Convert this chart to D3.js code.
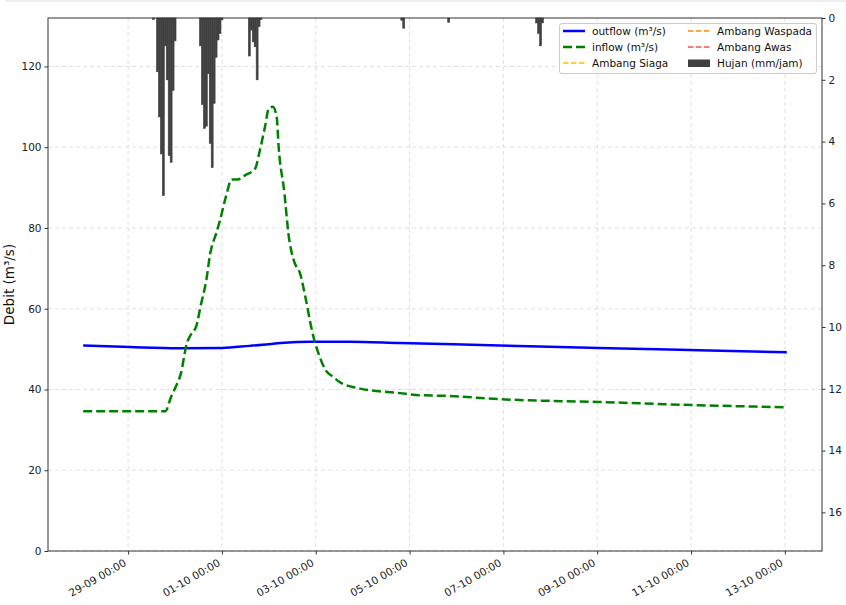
<!DOCTYPE html>
<html><head><meta charset="utf-8">
<script src="https://cdn.jsdelivr.net/npm/d3@7"></script>
<style>body{margin:0;background:#fff}svg{display:block;font-family:"DejaVu Sans",sans-serif}</style>
</head><body><svg id="c" width="846" height="605"></svg>
<script>
// ---- data (hours since 28-09 01:00) ----
const startTime = Date.UTC(2024, 8, 28, 1);
const totalHours = 360;
const inflowHours = [0,42,45,47,50,53,55,58,60,63,65,68,70,73,76,79,83,88,90,93,95,97,99,100,103,105,108,111,114,117,121,124,128,131,141,162,172,187,213,264,315,360];
const inflowValues = [34.6,34.6,38.2,40.3,44.0,51.4,53.5,55.9,60.5,67.1,73.7,78.6,81.9,87.7,92.0,92.0,93.1,94.7,98.4,105.0,109.6,110.0,107.5,100.1,88.5,78.6,71.6,68.7,62.1,54.7,48.1,44.8,43.1,41.9,40.3,39.1,38.6,38.4,37.6,36.9,36.1,35.6];
const outflowHours = [0,24,49,71,85,95,103,116,136,162,213,264,315,360];
const outflowValues = [50.9,50.5,50.2,50.3,50.8,51.2,51.6,51.8,51.8,51.5,50.9,50.3,49.7,49.2];
const rainHours = [36,38,39,40,41,42,43,44,45,46,47,60,61,62,63,64,65,66,67,68,69,70,71,85,86,87,88,89,90,91,163,164,187,232,233,234,235];
const rainValues = [0.05,1.74,3.2,4.4,5.75,0.9,2.0,4.45,4.67,2.34,0.74,0.9,2.8,3.57,3.5,1.8,4.06,4.84,2.76,1.27,0.71,0.5,0.06,1.23,0.39,0.77,0.93,2.0,0.28,0.05,0.07,0.33,0.14,0.16,0.5,0.9,0.16];
const leftTicks = [0,20,40,60,80,100,120];
const rightTicks = [0,2,4,6,8,10,12,14,16];
const xTickDates = ["2024-09-29","2024-10-01","2024-10-03","2024-10-05","2024-10-07","2024-10-09","2024-10-11","2024-10-13"];
const legendLabels = ["outflow (m³/s)","inflow (m³/s)","Ambang Siaga","Ambang Waspada","Ambang Awas","Hujan (mm/jam)"];
const legendColors = ["#0000ff","#008000","#ffc000","#ff8c00","#f05050","#404040"];

const H = 3600e3;
const t = h => new Date(startTime + h*H);
const svg = d3.select("#c");
const m = {l:48, r:822, t:18, b:551};

const x = d3.scaleUtc().domain([t(-18), t(totalHours+18)]).range([m.l, m.r]);
const y = d3.scaleLinear().domain([0, 132]).range([m.b, m.t]);
const yr = d3.scaleLinear().domain([0, 17.25]).range([m.t, m.b]);

// title frame remnant
svg.append("line").attr("x1",5).attr("x2",846).attr("y1",1).attr("y2",1).attr("stroke","#ddd");

// grid
const g = svg.append("g");
g.selectAll(".gy").data(leftTicks).join("line")
 .attr("x1",m.l).attr("x2",m.r).attr("y1",d=>y(d)).attr("y2",d=>y(d))
 .attr("stroke","#d8d8d8").attr("stroke-dasharray","4,3").attr("stroke-width",0.8);
const xt = xTickDates.map(s=>new Date(s+"T00:00:00Z"));
g.selectAll(".gx").data(xt).join("line")
 .attr("x1",d=>x(d)).attr("x2",d=>x(d)).attr("y1",m.t).attr("y2",m.b)
 .attr("stroke","#d8d8d8").attr("stroke-dasharray","4,3").attr("stroke-width",0.8);

// lines
const line = d3.line().x(d=>x(t(d[0]))).y(d=>y(d[1])).curve(d3.curveMonotoneX);
svg.append("path").datum(outflowHours.map((h,i)=>[h,outflowValues[i]]))
 .attr("d",line).attr("fill","none").attr("stroke","#0000ff").attr("stroke-width",2.5);
svg.append("path").datum(inflowHours.map((h,i)=>[h,inflowValues[i]]))
 .attr("d",line).attr("fill","none").attr("stroke","#008000").attr("stroke-width",2.5).attr("stroke-dasharray","9,4");

// rain bars
svg.append("g").selectAll("rect").data(rainHours.map((h,i)=>[h,rainValues[i]])).join("rect")
 .attr("x",d=>x(t(d[0]-0.5))).attr("width",d=>x(t(d[0]+0.5))-x(t(d[0]-0.5)))
 .attr("y",yr(0)).attr("height",d=>yr(d[1])-yr(0)).attr("fill","#404040")
 .attr("stroke","#404040").attr("stroke-width",0.6);

// axes
const fmt = d3.utcFormat("%d-%m %H:%M");
const ax = svg.append("g").attr("transform",`translate(0,${m.b})`)
 .call(d3.axisBottom(x).tickValues(xt).tickFormat(fmt).tickSize(3.5).tickSizeOuter(0));
ax.selectAll("text").attr("x",0).attr("y",0).attr("dy",0)
 .attr("transform","translate(-1.5,14) rotate(-30)").attr("text-anchor","end");
const al = svg.append("g").attr("transform",`translate(${m.l},0)`)
 .call(d3.axisLeft(y).tickValues(leftTicks).tickSize(3.5).tickSizeOuter(0));
const ar = svg.append("g").attr("transform",`translate(${m.r},0)`)
 .call(d3.axisRight(yr).tickValues(rightTicks).tickSize(3.5).tickSizeOuter(0));
[ax,al,ar].forEach(a=>{a.select(".domain").remove();a.selectAll("text").attr("font-size",10.5).attr("fill","#222").attr("font-family","DejaVu Sans");a.selectAll(".tick line").attr("stroke","#333");});
// frame
svg.append("rect").attr("x",m.l).attr("y",m.t).attr("width",m.r-m.l).attr("height",m.b-m.t).attr("fill","none").attr("stroke","#333").attr("stroke-width",1);

svg.append("text").attr("transform",`translate(14,${(m.t+m.b)/2}) rotate(-90)`).attr("text-anchor","middle")
 .attr("font-size",13.5).attr("fill","#111").text("Debit (m³/s)");

// legend
const L = svg.append("g");
L.append("rect").attr("x",559.5).attr("y",23.5).attr("width",257).attr("height",50).attr("rx",2.5)
 .attr("fill","#fff").attr("fill-opacity",0.85).attr("stroke","#ccc");
const pos = [[563,31],[563,47],[563,63],[688,31],[688,47],[688,63]];
legendLabels.forEach((lab,i)=>{
  const [px,py]=pos[i];
  if(i===5){L.append("rect").attr("x",px).attr("y",py-3.5).attr("width",22).attr("height",7.5).attr("fill",legendColors[i]);}
  else{
    const ln=L.append("line").attr("x1",px).attr("x2",px+22).attr("y1",py).attr("y2",py).attr("stroke",legendColors[i]);
    if(i===0) ln.attr("stroke-width",2.5);
    else if(i===1) ln.attr("stroke-width",2.5).attr("stroke-dasharray","9,4");
    else ln.attr("stroke-width",1.5).attr("stroke-dasharray","5.5,2.5");
  }
  L.append("text").attr("x",px+29).attr("y",py+3.8).attr("font-size",10.5).attr("fill","#111").text(lab);
});
</script></body></html>
